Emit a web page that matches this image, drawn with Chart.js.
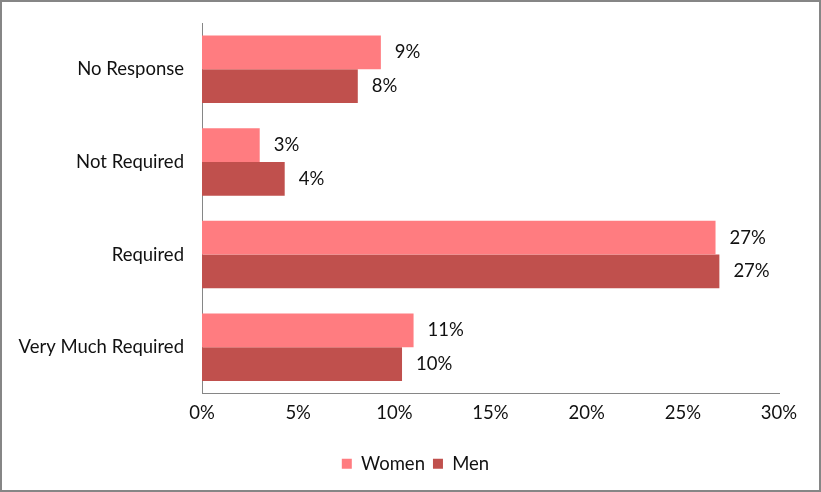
<!DOCTYPE html>
<html>
<head>
<meta charset="utf-8">
<script src="https://cdn.jsdelivr.net/npm/chart.js@4.4.1/dist/chart.umd.min.js"></script>
<style>
  html, body { margin: 0; padding: 0; background: #fff; }
  #wrap { position: absolute; left: 0; top: 0; width: 817px; height: 488px; border: 2px solid #868686; background: #fff; }
  canvas { display: block; }
</style>
</head>
<body>
<div id="wrap"><canvas id="c" width="817" height="488"></canvas></div>
<script>
const categories = ["No Response", "Not Required", "Required", "Very Much Required"];
const women = [9.3, 3.0, 26.7, 11.0];
const men = [8.1, 4.3, 26.9, 10.4];
const xTicks = [0, 5, 10, 15, 20, 25, 30];

const FONT = "Lato, 'Open Sans', 'Liberation Sans', sans-serif";
const FS = 18.5;

const valueLabels = {
  id: 'valueLabels',
  afterDatasetsDraw(chart) {
    const ctx = chart.ctx;
    ctx.save();
    ctx.font = FS + "px " + FONT;
    ctx.fillStyle = "#111";
    ctx.textAlign = "left";
    ctx.textBaseline = "middle";
    chart.data.datasets.forEach((ds, di) => {
      const meta = chart.getDatasetMeta(di);
      meta.data.forEach((bar, i) => {
        ctx.fillText(Math.round(ds.data[i]) + "%", bar.x + 14, bar.y);
      });
    });
    ctx.restore();
  }
};

const legendShift = {
  id: 'legendShift',
  afterLayout(chart) {
    const lg = chart.legend;
    if (lg) { lg.left += 25; lg.right += 25; }
  }
};

new Chart(document.getElementById('c'), {
  type: 'bar',
  data: {
    labels: categories,
    datasets: [
      { label: 'Women', data: women, backgroundColor: '#FF7C80', categoryPercentage: 0.73, barPercentage: 1.0 },
      { label: 'Men', data: men, backgroundColor: '#C0504D', categoryPercentage: 0.73, barPercentage: 1.0 }
    ]
  },
  options: {
    indexAxis: 'y',
    responsive: false,
    animation: false,
    layout: { padding: { top: 21, right: 40, bottom: 7, left: 0 } },
    plugins: {
      legend: {
        position: 'bottom',
        labels: {
          boxWidth: 10, boxHeight: 10, padding: 8,
          color: '#111',
          font: { size: FS, family: FONT }
        }
      },
      tooltip: { enabled: false }
    },
    scales: {
      x: {
        min: 0, max: 30,
        afterBuildTicks(axis) { axis.ticks = xTicks.map(v => ({ value: v })); },
        afterFit(axis) { axis.height = 53; },
        grid: { display: false, drawTicks: false },
        border: { display: true, color: '#868686', width: 1 },
        ticks: {
          padding: 8,
          color: '#111',
          font: { size: FS, family: FONT },
          callback: v => v + '%',
          maxRotation: 0
        }
      },
      y: {
        afterFit(axis) { axis.width = 200; axis.paddingTop = 0; axis.paddingBottom = 0; },
        grid: { display: false, drawTicks: false },
        border: { display: true, color: '#868686', width: 1 },
        ticks: {
          padding: 18,
          color: '#111',
          font: { size: FS, family: FONT }
        }
      }
    }
  },
  plugins: [valueLabels, legendShift]
});
</script>
</body>
</html>
